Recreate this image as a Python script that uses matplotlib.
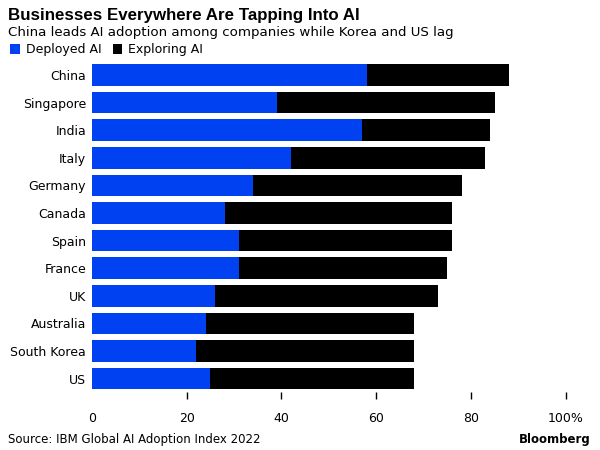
import matplotlib
matplotlib.use("Agg")
import matplotlib.pyplot as plt
from matplotlib.patches import Rectangle

countries = ["China", "Singapore", "India", "Italy", "Germany", "Canada", "Spain",
             "France", "UK", "Australia", "South Korea", "US"]
deployed = [58, 39, 57, 42, 34, 28, 31, 31, 26, 24, 22, 25]
total = [88, 85, 84, 83, 78, 76, 76, 75, 73, 68, 68, 68]
exploring = [t - d for t, d in zip(total, deployed)]
xticks = [0, 20, 40, 60, 80, 100]
xticklabels = ["0", "20", "40", "60", "80", "100%"]

BLUE = "#0041F2"
BLACK = "#000000"
plt.rcParams['font.family'] = ['DejaVu Sans']

fig = plt.figure(figsize=(6, 4.5), dpi=100)
ax = fig.add_axes([0.153, 0.128, 0.79, 0.736])

y = list(range(len(countries)))
ax.barh(y, deployed, height=0.78, color=BLUE, edgecolor="none")
ax.barh(y, exploring, left=deployed, height=0.78, color=BLACK, edgecolor="none")
ax.set_ylim(len(countries) - 0.5, -0.5)
ax.set_xlim(0, 100)
ax.set_yticks(y)
ax.set_yticklabels(countries, fontsize=9)
ax.set_xticks(xticks)
ax.set_xticklabels(xticklabels, fontsize=9)
ax.tick_params(axis='y', length=0, pad=4)
ax.tick_params(axis='x', length=5, width=1, color="#000000", pad=9, direction='out')
ax.xaxis.get_major_ticks()[0].tick1line.set_visible(False)
for s in ax.spines.values():
    s.set_visible(False)

fig.text(0.013, 0.965, "Businesses Everywhere Are Tapping Into AI", fontsize=12.2,
         fontweight='heavy', family=['Liberation Sans'], va='center', ha='left')
fig.text(0.013, 0.928, "China leads AI adoption among companies while Korea and US lag",
         fontsize=9.6, va='center', ha='left')
# legend
fig.patches.append(Rectangle((0.017, 0.881), 0.016, 0.021, transform=fig.transFigure,
                             facecolor=BLUE, edgecolor='none'))
fig.text(0.043, 0.891, "Deployed AI", fontsize=9, va='center', ha='left')
fig.patches.append(Rectangle((0.188, 0.881), 0.016, 0.021, transform=fig.transFigure,
                             facecolor=BLACK, edgecolor='none'))
fig.text(0.213, 0.891, "Exploring AI", fontsize=9, va='center', ha='left')

fig.text(0.013, 0.023, "Source: IBM Global AI Adoption Index 2022", fontsize=8.5,
         va='center', ha='left')
fig.text(0.985, 0.023, "Bloomberg", fontsize=8.5, fontweight='bold', va='center', ha='right')

fig.savefig("out.png", dpi=100)
